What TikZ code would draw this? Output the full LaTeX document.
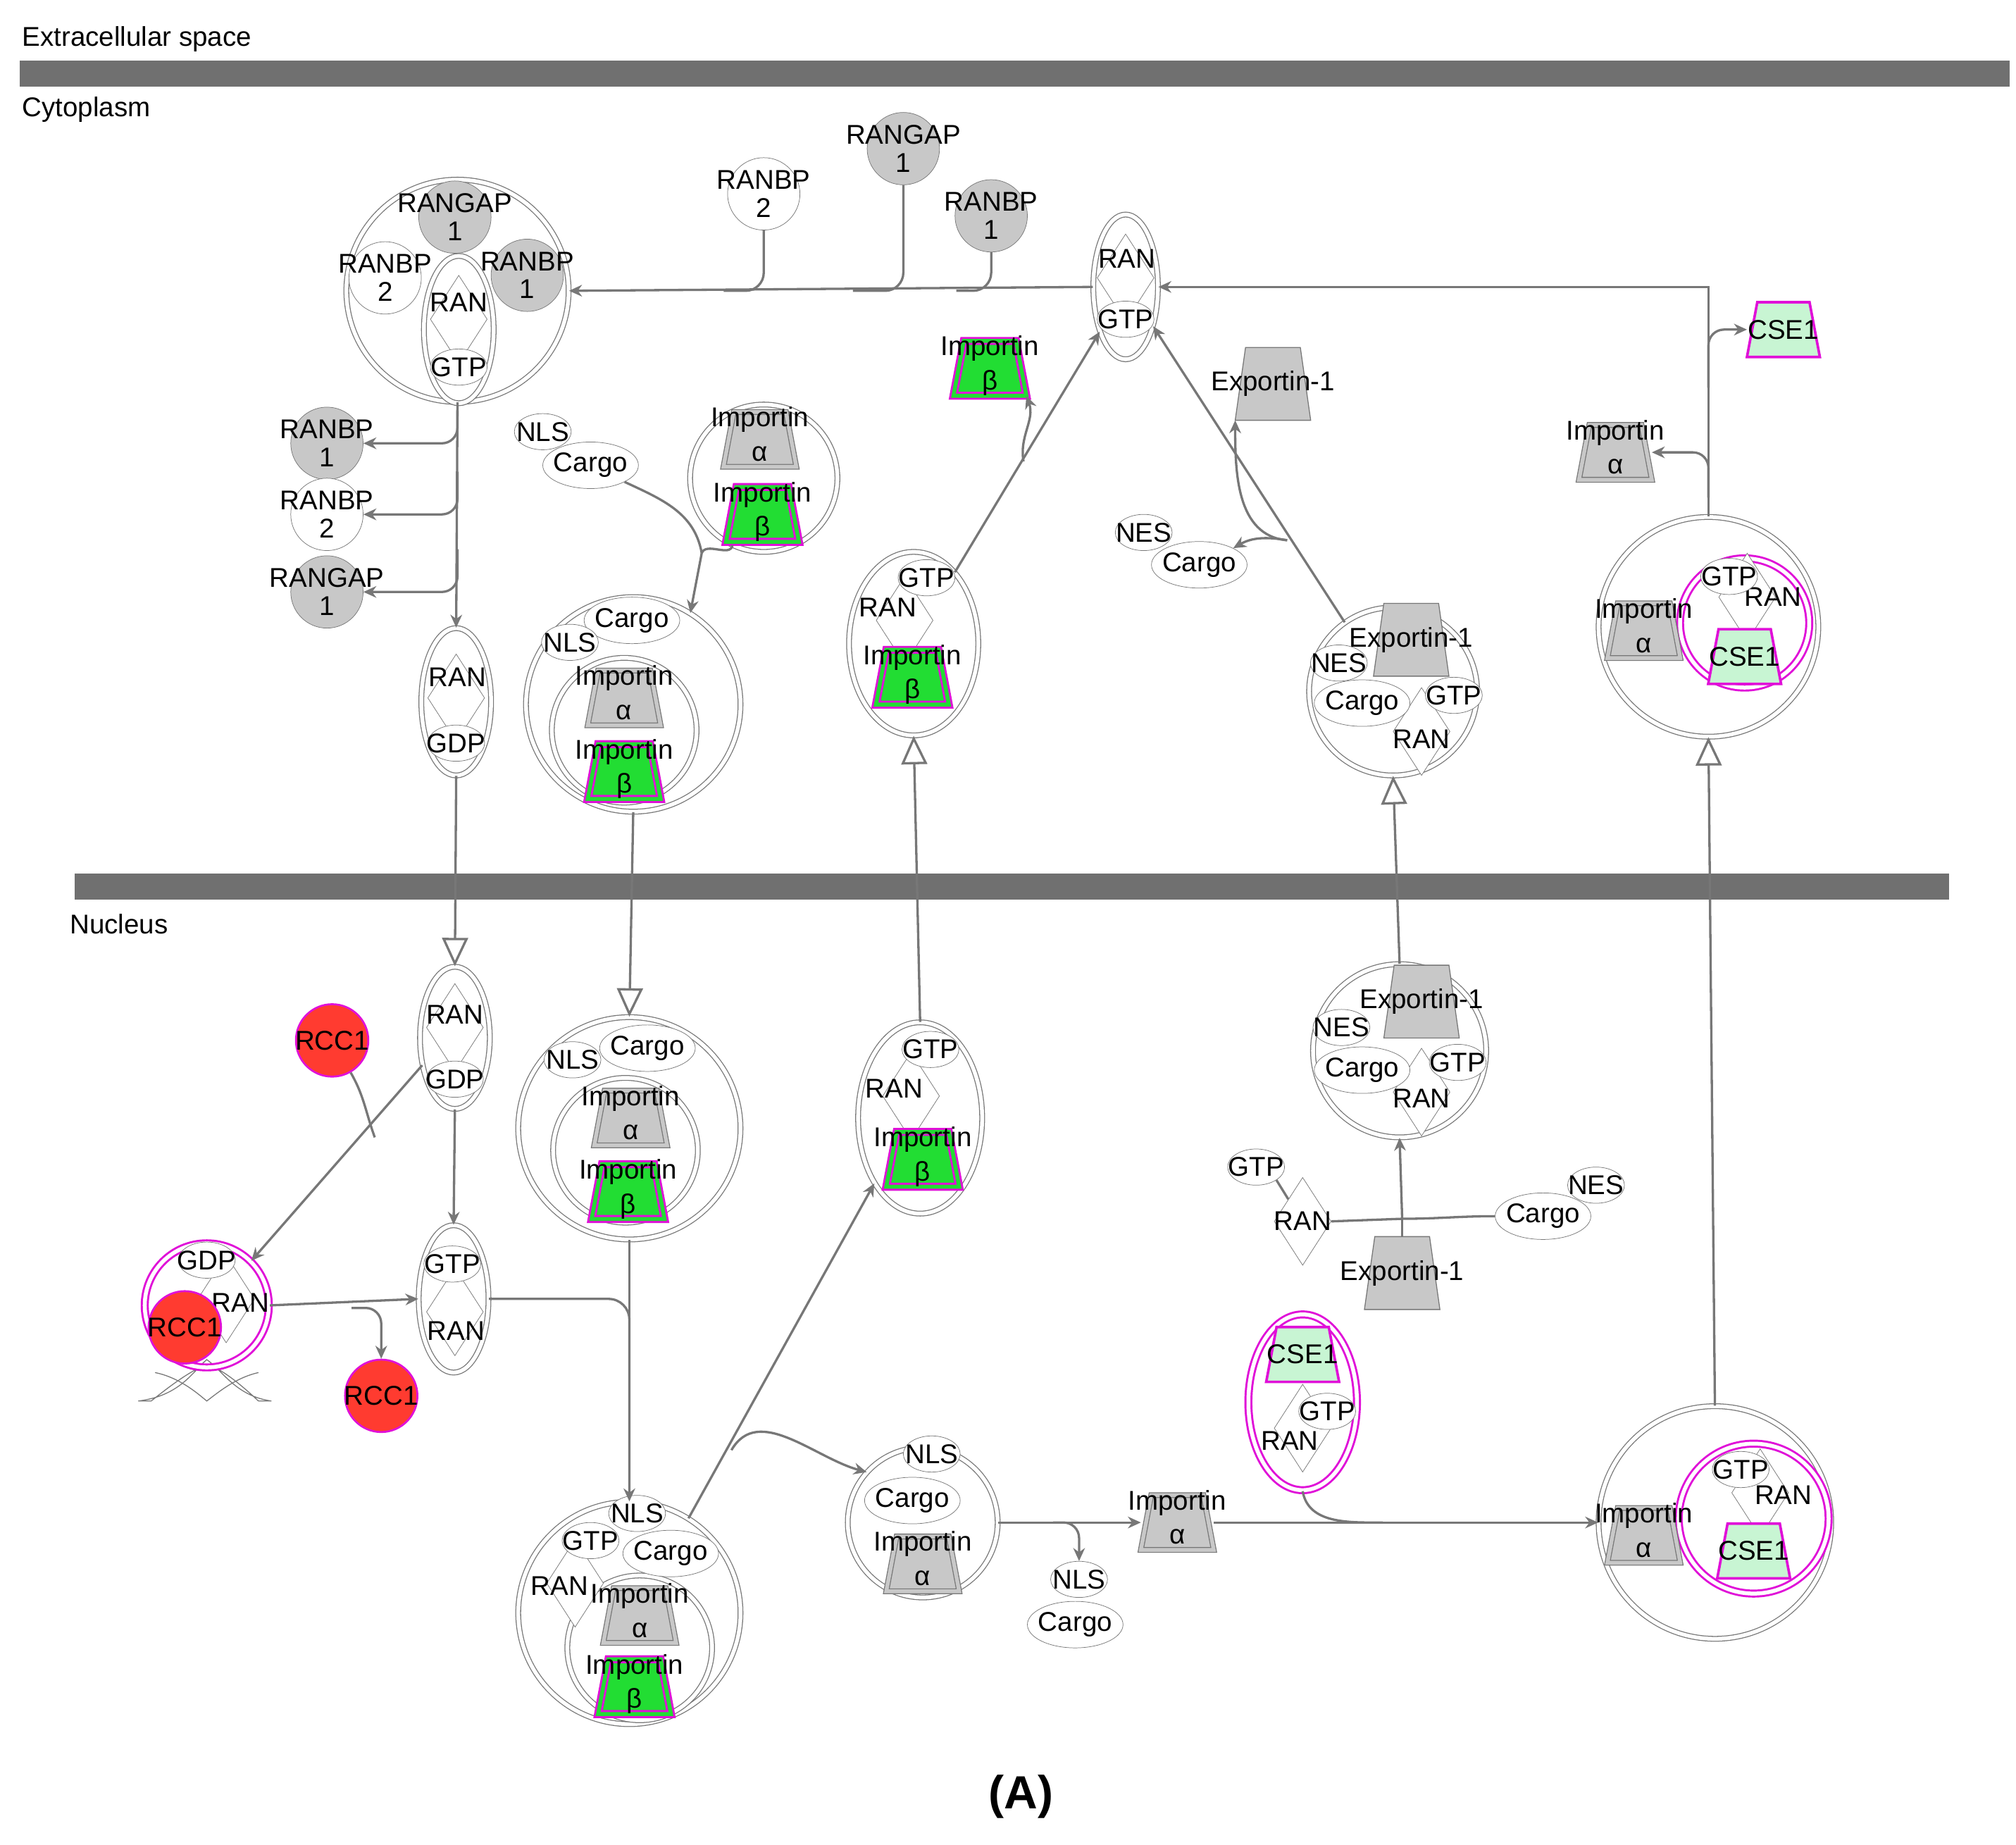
\documentclass[tikz,border=0pt]{standalone}
\usepackage{fontspec}
\setmainfont{Liberation Sans}
\usetikzlibrary{shapes.geometric,arrows.meta}
\definecolor{gcol}{HTML}{C8C8C8}
\definecolor{lcol}{HTML}{777777}
\definecolor{rcol}{HTML}{FF3B30}
\definecolor{lgcol}{HTML}{C8F5D3}
\definecolor{bgcol}{HTML}{22DD33}
\definecolor{mgcol}{HTML}{E010D8}
\definecolor{barcol}{HTML}{707070}
\newcommand\zc[1]{\makebox[0pt]{\shortstack{#1}}}
\newcommand\zt[2]{\makebox[0pt]{\shortstack{#1\\[4pt]#2}}}
\tikzset{
 base/.style={font=\fontsize{21}{23}\selectfont,inner sep=0,align=center},
 gc/.style={base,circle,draw=lcol,fill=gcol,minimum size=56},
 wc/.style={gc,fill=white},
 rc/.style={base,circle,draw=mgcol,line width=1.5pt,fill=rcol,minimum size=56},
 el/.style={base,ellipse,draw=lcol,fill=white,minimum width=74,minimum height=36},
 sm/.style={base,ellipse,draw=lcol,fill=white,minimum width=44,minimum height=28},
 cx/.style={circle,draw=lcol,double=white,double distance=3pt,line width=0.7pt,minimum size=#1,inner sep=0},
 mx/.style={circle,draw=mgcol,double=white,double distance=3pt,line width=1.6pt,minimum size=#1,inner sep=0},
 ce/.style={ellipse,draw=lcol,double=white,double distance=3pt,line width=0.7pt,inner sep=0},
 dia/.style={base,diamond,draw=lcol,fill=white,minimum width=44,minimum height=68},
 box/.style={rectangle,inner sep=0,minimum width=56,minimum height=42},
 impA/.style={draw=lcol,fill=gcol,double=gcol,double distance=3pt,line width=0.7pt},
 impB/.style={draw=mgcol,fill=bgcol,double=bgcol,double distance=3pt,line width=1.6pt},
 cseT/.style={draw=mgcol,fill=lgcol,line width=2pt},
 expT/.style={draw=lcol,fill=gcol,line width=0.7pt},
 ln/.style={draw=lcol,line width=1.8pt},
 ar/.style={ln,-{Stealth[length=10pt,width=9pt]}},
 op/.style={ln,-{Triangle[open,length=22pt,width=20pt,fill=white]}},
}
\newcommand\TRP[4]{\node[box,#4] (#1) at (#2) {}; \fill[white] ([xshift=8pt]#1.north west) -- ([xshift=-8pt]#1.north east) -- (#1.south east) -- (#1.south west) -- cycle; \path[#3] ([xshift=8pt]#1.north west) -- ([xshift=-8pt]#1.north east) -- (#1.south east) -- (#1.south west) -- cycle;}
\newcommand\IA[2]{\TRP{#1}{#2}{impA}{}\node[base] at ([yshift=-6pt]#1.north) {Importin}; \node[base] at ([yshift=10pt]#1.south) {α};}
\newcommand\IB[2]{\TRP{#1}{#2}{impB}{}\node[base] at ([yshift=-6pt]#1.north) {Importin}; \node[base] at ([yshift=10pt]#1.south) {β};}
\newcommand\CS[2]{\TRP{#1}{#2}{cseT}{}\node[base] at (#1) {CSE1};}
\newcommand\EX[2]{\TRP{#1}{#2}{expT}{minimum width=58,minimum height=56}\node[base] at (#1) {Exportin-1};}
\newcommand\RAN[3]{\node[dia] (#1) at (#2) {}; \node[base] at (#3) {RAN};}
\begin{document}
\begin{tikzpicture}[x=1pt,y=-1pt]
\useasboundingbox (0,0) rectangle (1560,1427);
\fill[white] (0,0) rectangle (1560,1427);
\fill[barcol] (15,47) rectangle (1555,67);
\fill[barcol] (58,676) rectangle (1508,696);
\node[base,anchor=west] (lab1) at (17,30) {Extracellular space};
\node[base,anchor=west] (lab2) at (17,85) {Cytoplasm};
\node[base,anchor=west] (lab3) at (54,715) {Nucleus};
\node[font=\fontsize{36}{36}\selectfont\bfseries] (labA) at (790,1390) {(A)};
% ===== top-left complex
\node[cx=172] (c1) at (354,225) {};
\node[gc] (c1a) at (352,168) {\zt{RANGAP}{1}};
\node[wc] (c1b) at (298,215) {\zt{RANBP}{2}};
\node[gc] (c1c) at (408,213) {\zt{RANBP}{1}};
\node[ce,minimum width=54,minimum height=114,fill=white] (c1d) at (355,255) {};
\RAN{c1e}{355,247}{355,234}
\node[sm] (c1f) at (355,284) {\zc{GTP}};
\node[wc] (t2) at (591,150) {\zt{RANBP}{2}};
\node[gc] (t1) at (699,115) {\zt{RANGAP}{1}};
\node[gc] (t3) at (767,167) {\zt{RANBP}{1}};
\node[ce,minimum width=50,minimum height=112,fill=white] (ranT) at (871,222) {};
\RAN{ranTd}{871,215}{872,200}
\node[sm] (ranTg) at (871,247) {\zc{GTP}};
\IB{ib1}{766,285}
\EX{ex1}{985,297}
\CS{cs1}{1380,255}
\IA{ia9}{1250,350}
\node[sm] (nes1) at (885,412) {\zc{NES}};
\node[el] (cg2) at (928,437) {\zc{Cargo}};
\node[gc] (b1) at (253,343) {\zt{RANBP}{1}};
\node[wc] (b2) at (253,398) {\zt{RANBP}{2}};
\node[gc] (b3) at (253,458) {\zt{RANGAP}{1}};
\node[ce,minimum width=54,minimum height=114] (rg1) at (353,543) {};
\RAN{rg1d}{353,540}{354,524}
\node[sm] (rg1g) at (353,575) {\zc{GDP}};
\node[sm] (nls1) at (420,334) {\zc{NLS}};
\node[el] (cg1) at (457,360) {\zc{Cargo}};
\node[cx=114] (ab) at (591,370) {};
\IA{ab1}{588,340}
\IB{ab2}{590,398}
\node[cx=166] (c2) at (490,545) {};
\node[cx=112] (c2i) at (483,565) {};
\node[el] (c2a) at (489,480) {\zc{Cargo}};
\node[sm] (c2b) at (441,497) {\zc{NLS}};
\IA{c2c}{483,540}
\IB{c2d}{483,597}
\node[ce,minimum width=100,minimum height=142] (c3) at (707,498) {};
\RAN{c3d}{700,480}{687,470}
\node[sm] (c3g) at (717,447) {\zc{GTP}};
\IB{c3b}{706,524}
\node[cx=130] (c4) at (1078,535) {};
\EX{c4e}{1092,495}
\node[sm] (c4n) at (1036,513) {\zc{NES}};
\RAN{c4r}{1100,566}{1100,572}
\node[sm] (c4g) at (1125,538) {\zc{GTP}};
\node[el] (c4c) at (1054,544) {\zc{Cargo}};
\node[cx=170] (c9) at (1322,485) {};
\node[mx=100] (c9i) at (1350,482) {};
\RAN{c9r}{1352,462}{1372,462}
\node[sm] (c9g) at (1338,446) {\zc{GTP}};
\CS{c9c}{1350,508}
\IA{c9a}{1272,488}
% ===== nucleus
\node[ce,minimum width=54,minimum height=110] (rg2) at (352,803) {};
\RAN{rg2d}{352,795}{352,785}
\node[sm] (rg2g) at (352,835) {\zc{GDP}};
\node[rc] (rcc1) at (257,805) {\zc{RCC1}};
\draw[lcol,fill=white,line width=0.7pt] (107,1084) .. controls (140,1080) and (150,1060) .. (160,1052) .. controls (172,1060) and (182,1080) .. (210,1084) -- (200,1084) .. controls (185,1070) and (170,1058) .. (160,1056) .. controls (148,1060) and (132,1072) .. (117,1084) -- cycle;
\draw[lcol,line width=0.7pt] (120,1062) .. controls (140,1066) and (155,1080) .. (160,1084) .. controls (168,1078) and (182,1066) .. (200,1062);
\node[mx=96] (rc) at (160,1010) {};
\RAN{rcd}{175,1005}{186,1008}
\node[sm] (rcg) at (160,975) {\zc{GDP}};
\node[rc] (rcr) at (143,1027) {\zc{RCC1}};
\node[rc] (rcc1b) at (295,1080) {\zc{RCC1}};
\node[ce,minimum width=54,minimum height=114] (rt2) at (351,1005) {};
\RAN{rt2d}{352,1015}{353,1030}
\node[sm] (rt2g) at (350,978) {\zc{GTP}};
\node[cx=172] (c5) at (487,873) {};
\node[cx=112] (c5i) at (484,890) {};
\node[sm] (c5n) at (443,820) {\zc{NLS}};
\node[el] (c5c) at (501,811) {\zc{Cargo}};
\IA{c5a}{488,865}
\IB{c5b}{486,922}
\node[ce,minimum width=96,minimum height=148] (c6) at (712,865) {};
\RAN{c6d}{705,848}{692,842}
\node[sm] (c6g) at (720,812) {\zc{GTP}};
\IB{c6b}{714,897}
\node[cx=172] (c11) at (487,1248) {};
\node[cx=112] (c11i) at (495,1275) {};
\RAN{c11r}{445,1225}{433,1227}
\node[sm] (c11n) at (493,1171) {\zc{NLS}};
\node[sm] (c11g) at (457,1192) {\zc{GTP}};
\node[el] (c11c) at (519,1202) {\zc{Cargo}};
\IA{c11a}{495,1250}
\IB{c11b}{491,1305}
\node[cx=116] (c12) at (714,1178) {};
\node[sm] (c12n) at (721,1125) {\zc{NLS}};
\node[el] (c12c) at (706,1161) {\zc{Cargo}};
\IA{c12a}{714,1210}
\IA{ia3}{911,1178}
\node[sm] (nls3) at (835,1222) {\zc{NLS}};
\node[el] (cg3) at (832,1257) {\zc{Cargo}};
\node[ellipse,draw=mgcol,double=white,double distance=3pt,line width=1.6pt,minimum width=84,minimum height=136,inner sep=0] (c14) at (1008,1085) {};
\RAN{c14r}{1008,1105}{998,1115}
\CS{c14c}{1008,1048}
\node[sm] (c14g) at (1027,1092) {\zc{GTP}};
\node[cx=180] (c13) at (1327,1178) {};
\node[mx=116] (c13i) at (1357,1175) {};
\RAN{c13r}{1362,1155}{1380,1157}
\node[sm] (c13g) at (1347,1137) {\zc{GTP}};
\CS{c13c}{1357,1200}
\IA{c13a}{1272,1188}
\node[cx=134] (c7) at (1083,813) {};
\EX{c7e}{1100,775}
\node[sm] (c7n) at (1038,795) {\zc{NES}};
\RAN{c7r}{1100,845}{1100,850}
\node[sm] (c7g) at (1128,822) {\zc{GTP}};
\node[el] (c7c) at (1054,828) {\zc{Cargo}};
\node[sm] (g3) at (972,903) {\zc{GTP}};
\RAN{r3}{1008,945}{1008,945}
\EX{ex3}{1085,985}
\node[sm] (n3) at (1235,917) {\zc{NES}};
\node[el] (cg4) at (1194,941) {\zc{Cargo}};
% ===== connectors
\coordinate (j1) at (560,225);
\coordinate (j2) at (660,225);
\coordinate (j3) at (740,225);
\draw[ar] (ranT.west) -- (c1.east);
\draw[ln,rounded corners=14] (t2.south) |- (j1);
\draw[ln,rounded corners=14] (t1.south) |- (j2);
\draw[ln,rounded corners=14] (t3.south) |- (j3);
\draw[ar] (c9.north) |- (ranT.east);
\coordinate (k1) at (1322,300);
\draw[ar,rounded corners=12] (k1) |- (cs1.west);
\coordinate (k1b) at (1322,385);
\draw[ar,rounded corners=12] (k1b) |- (ia9.east);
\draw[ar] (c1.south) -- (rg1.north);
\coordinate (m1) at (354,318); \coordinate (m2) at (354,365); \coordinate (m3) at (354,425);
\draw[ar,rounded corners=12] (m1) |- (b1.east);
\draw[ar,rounded corners=12] (m2) |- (b2.east);
\draw[ar,rounded corners=12] (m3) |- (b3.east);
\coordinate (k2) at (543,428);
\draw[ln] (cg1.south east) to[out=-25,in=100] (k2);
\draw[ln] (ab.-115) to[out=-100,in=70] (k2);
\draw[ar] (k2) -- (c2.58);
\draw[op] (c2.south) -- (c5.north);
\draw[op] (c6.north) -- (c3.south);
\draw[ar] (c3.60) -- (ranT.-120);
\coordinate (k3) at (792,357);
\draw[ar] (k3) to[out=100,in=-70] (ib1.south east);
\coordinate (k4) at (996,418);
\draw[ar] (c4.125) -- (ranT.-55);
\draw[ar] (k4) to[out=175,in=-90] (ex1.south west);
\draw[ar] (k4) to[out=170,in=30] (cg2.north east);
\draw[op] (c7.north) -- (c4.south);
\draw[op] (c13.north) -- (c9.south);
\draw[op] (rg1.south) -- (rg2.north);
\draw[ar] (rg2.south) -- (rt2.north);
\draw[ar] (rg2.-140) -- (rc.45);
\coordinate (k5) at (290,880);
\draw[ln] (rcc1.-60) to[out=-60,in=110] (k5);
\draw[ar] (rc.east) -- (rt2.west);
\coordinate (k6) at (272,1012);
\draw[ar,rounded corners=12] (k6) -| (rcc1b.north);
\draw[ar,rounded corners=16] (rt2.east) -| (c11.north);
\coordinate (k9) at (487,1045);
\draw[ln] (c5.south) -- (k9);
\draw[ar] (c11.58) -- (c6.-125);
\coordinate (k7) at (566,1122);
\draw[ar] (k7) to[out=60,in=165] (c12.138);
\draw[ar] (c12.east) -- (ia3.west);
\coordinate (k8) at (815,1178);
\draw[ar,rounded corners=12] (k8) -| (nls3.north);
\draw[ar] (ia3.east) -- (c13.west);
\coordinate (k10) at (1070,1178);
\draw[ln] (c14.south) to[out=-80,in=180] (k10);
\coordinate (j4) at (1085,943);
\draw[ar] (j4) -- (c7.south);
\draw[ln] (r3.east) -- (j4);
\draw[ln] (cg4.west) to[out=180,in=0] (j4);
\draw[ln] (ex3.north) -- (j4);
\draw[ln] (g3.south east) -- (r3.north west);
\end{tikzpicture}
\end{document}
